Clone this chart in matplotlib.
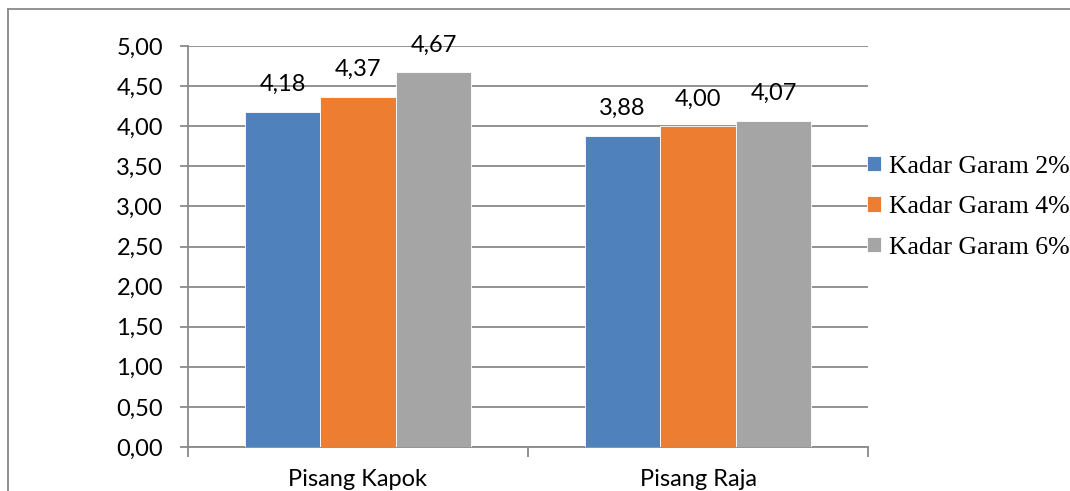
import matplotlib
matplotlib.use("Agg")
import matplotlib.pyplot as plt
from matplotlib.lines import Line2D
import numpy as np

categories = ["Pisang Kapok", "Pisang Raja"]
series_names = ["Kadar Garam 2%", "Kadar Garam 4%", "Kadar Garam 6%"]
garam_2 = [4.18, 3.88]
garam_4 = [4.37, 4.00]
garam_6 = [4.67, 4.07]
y_ticks = [0.0, 0.5, 1.0, 1.5, 2.0, 2.5, 3.0, 3.5, 4.0, 4.5, 5.0]

colors = ["#4F81BD", "#ED7D31", "#A5A5A5"]
grid_color = "#898989"
sans = "Lato"
fs = 17

fig = plt.figure(figsize=(10.7, 4.91), dpi=100)
ax = fig.add_axes([188 / 1070, 44 / 491, 680 / 1070, 401 / 491])

x = np.arange(len(categories))
width = 1 / 4.5
for i, (vals, name, c) in enumerate(zip([garam_2, garam_4, garam_6], series_names, colors)):
    pos = x + (i - 1) * width
    bars = ax.bar(pos, vals, width, color=c, edgecolor="white", linewidth=0.6,
                  label=name, zorder=3)
    for b, v in zip(bars, vals):
        ax.annotate(f"{v:.2f}".replace(".", ","),
                    (b.get_x() + b.get_width() / 2, v),
                    xytext=(0, 12), textcoords="offset points",
                    ha="center", va="bottom", fontsize=fs, family=sans,
                    color="black", zorder=5)

ax.set_xlim(-0.5, 1.5)
ax.set_ylim(0, 5)
ax.set_yticks(y_ticks)
ax.set_yticklabels([f"{t:.2f}".replace(".", ",") for t in y_ticks],
                   fontsize=fs, family=sans)
ax.yaxis.grid(True, color=grid_color, linewidth=1.3, zorder=0)
ax.tick_params(axis="y", length=6, width=1.3, color=grid_color, pad=12)

# category ticks sit on the boundaries between groups
ax.set_xticks([-0.5, 0.5, 1.5])
ax.set_xticklabels([])
ax.tick_params(axis="x", length=7, width=1.3, color=grid_color)
for xi, cat in zip(x, categories):
    ax.text(xi, -0.27, cat, ha="center", va="top", fontsize=fs, family=sans,
            transform=ax.transData, clip_on=False)

for side in ["top", "right"]:
    ax.spines[side].set_visible(False)
for side in ["left", "bottom"]:
    ax.spines[side].set_color(grid_color)
    ax.spines[side].set_linewidth(1.3)

leg = ax.legend(loc="center left", bbox_to_anchor=(0.983, 0.598), frameon=False,
                prop={"family": "Liberation Serif", "size": 18.5},
                handlelength=0.55, handleheight=0.55, handletextpad=0.3,
                labelspacing=0.72, borderaxespad=0)

# outer chart frame
fig.add_artist(Line2D([8 / 1070, 8 / 1070], [0, 1 - 9 / 491], transform=fig.transFigure,
                      color=grid_color, linewidth=1.3))
fig.add_artist(Line2D([8 / 1070, 1], [1 - 9 / 491, 1 - 9 / 491], transform=fig.transFigure,
                      color=grid_color, linewidth=1.3))

fig.savefig("out.png", dpi=100, facecolor="white")
